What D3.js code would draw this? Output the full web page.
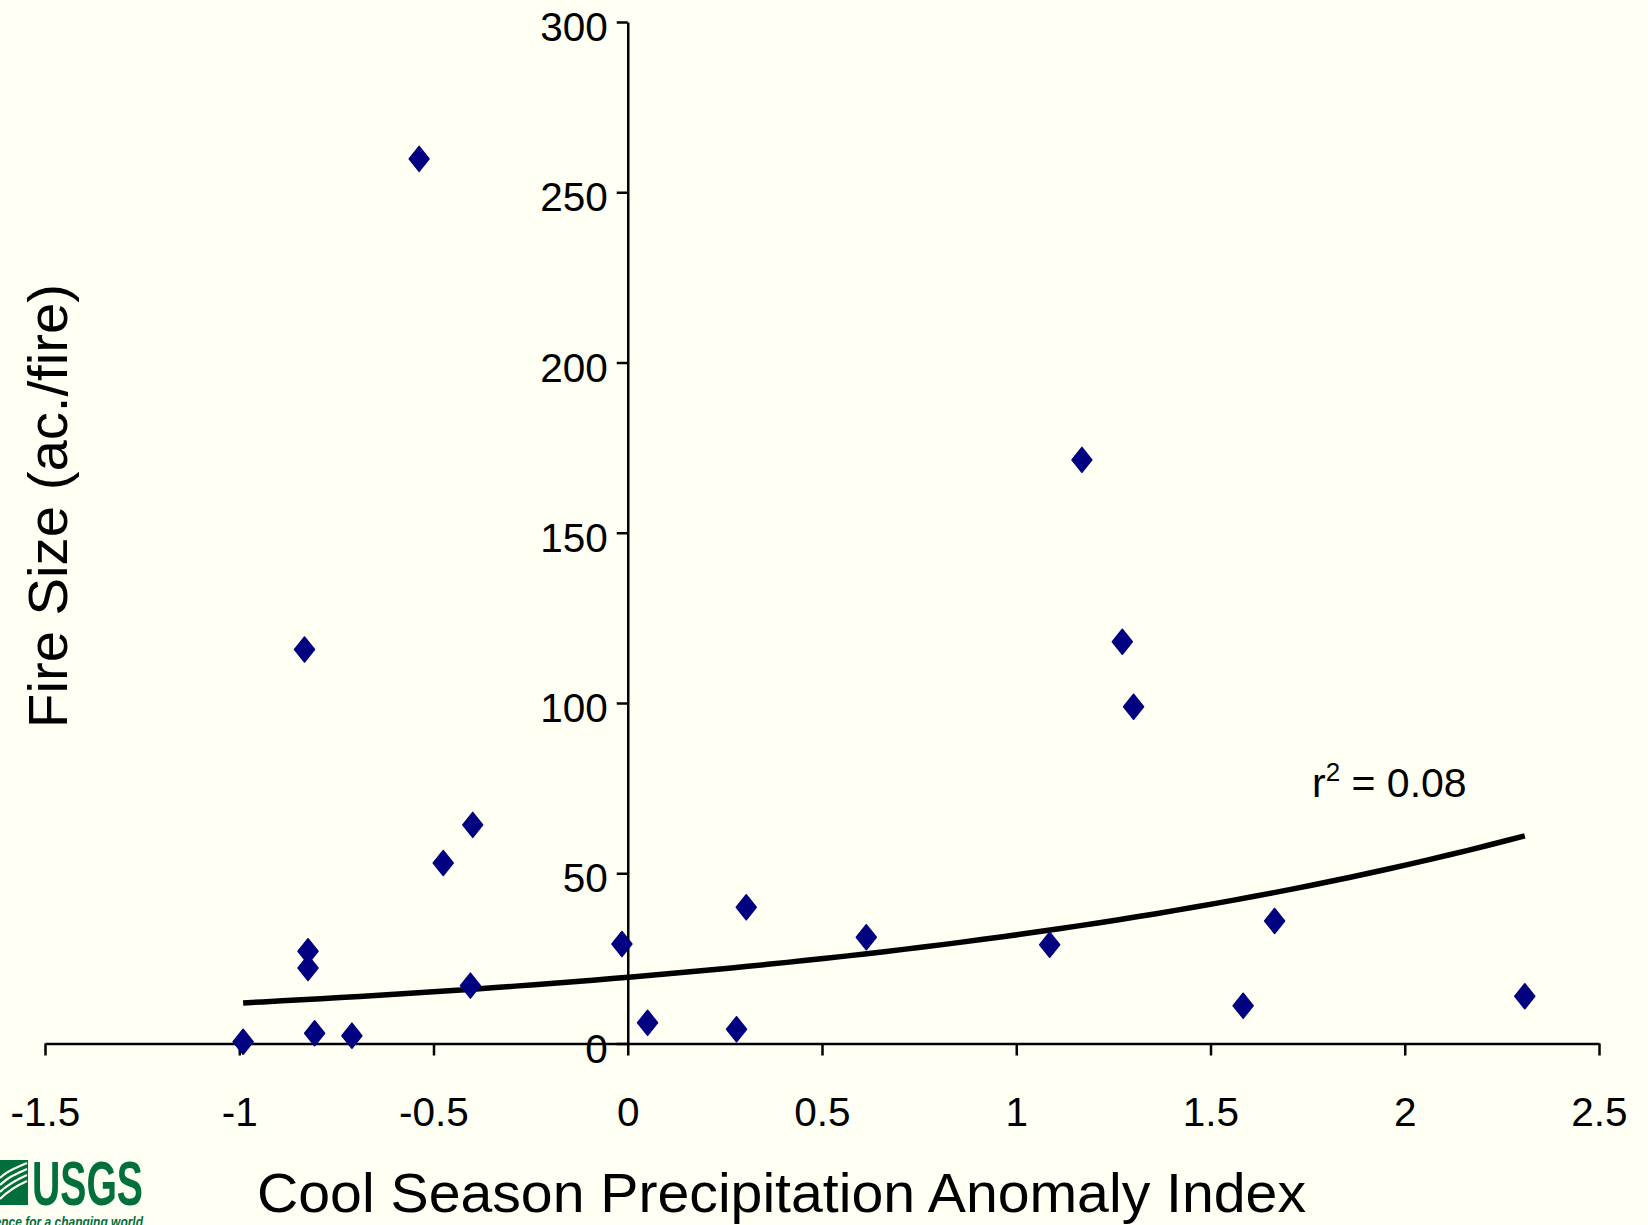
<!DOCTYPE html>
<html>
<head>
<meta charset="utf-8">
<script src="https://cdn.jsdelivr.net/npm/d3@7"></script>
<style>
  html, body { margin: 0; padding: 0; background: #fffff3; }
  svg { display: block; }
  text { font-family: "Liberation Sans", Arial, sans-serif; fill: #000; }
</style>
</head>
<body>
<div id="chart"></div>
<script>
var width = 1648;
var height = 1225;

// precipitation anomaly index (x) and fire size in ac./fire (y)
var precipIndex = [-0.99, -0.832, -0.537, -0.823, -0.823, -0.806, -0.710, -0.475, -0.399, -0.405,
                   -0.015, 0.051, 0.280, 0.305, 0.614, 1.086, 1.169, 1.273, 1.302, 1.584, 1.665, 2.309];
var fireSize    = [0.5, 115.7, 259.8, 27.1, 22.2, 3.0, 2.3, 53.0, 64.2, 17.0,
                   29.2, 6.1, 4.2, 40.0, 31.2, 29.0, 171.4, 118.0, 98.9, 11.1, 36.0, 13.9];

var xTicks = [-1.5, -1, -0.5, 0, 0.5, 1, 1.5, 2, 2.5];
var yTicks = [0, 50, 100, 150, 200, 250, 300];

// exponential trendline y = a * e^(b x)
var trendA = 19.45;
var trendB = 0.495;
var trendFrom = -0.99, trendTo = 2.309;
var trendLabel = "0.08";

var svg = d3.select("div#chart").append("svg")
    .attr("width", width)
    .attr("height", height);

svg.append("rect").attr("width", width).attr("height", height).attr("fill", "#fffff3");

var xScale = d3.scaleLinear().domain([-1.5, 2.5]).range([45, 1599]);
var yScale = d3.scaleLinear().domain([0, 300]).range([1043.5, 22]);

// x axis
var xAxis = svg.append("g")
    .attr("transform", "translate(0," + yScale(0) + ")")
    .call(d3.axisBottom(xScale).tickValues(xTicks).tickSize(12).tickSizeOuter(0).tickPadding(42)
        .tickFormat(function(d){ return String(d); }));

// y axis
var yAxis = svg.append("g")
    .attr("transform", "translate(" + xScale(0) + ",0)")
    .call(d3.axisLeft(yScale).tickValues(yTicks).tickSize(11).tickSizeOuter(0).tickPadding(9));

[xAxis, yAxis].forEach(function(g){
    g.select(".domain").attr("stroke", "#000").attr("stroke-width", 2.5);
    g.selectAll(".tick line").attr("stroke", "#000").attr("stroke-width", 2.5);
    g.selectAll(".tick text").attr("font-size", 40.5).attr("fill", "#000")
        .attr("font-family", "Liberation Sans, Arial, sans-serif");
});
yAxis.selectAll(".tick text").attr("dy", "0.46em");

// trendline
var trendXs = d3.range(trendFrom, trendTo, 0.05).concat([trendTo]);
var line = d3.line()
    .x(function(d){ return xScale(d); })
    .y(function(d){ return yScale(trendA * Math.exp(trendB * d)); });

svg.append("path")
    .datum(trendXs)
    .attr("d", line)
    .attr("fill", "none")
    .attr("stroke", "#000")
    .attr("stroke-width", 5.5)
    .attr("stroke-linejoin", "round");

// diamonds
var points = precipIndex.map(function(x, i){ return {x: x, y: fireSize[i]}; });
svg.selectAll("path.pt")
    .data(points)
    .enter()
    .append("path")
    .attr("class", "pt")
    .attr("d", "M0,-12.5L10,0L0,12.5L-10,0Z")
    .attr("transform", function(d){ return "translate(" + xScale(d.x) + "," + yScale(d.y) + ")"; })
    .attr("fill", "#000080")
    .attr("stroke", "#000080")
    .attr("stroke-width", 1.5)
    .attr("stroke-linejoin", "round");

// r2 label
var r2 = svg.append("text")
    .attr("x", 1312)
    .attr("y", 797)
    .attr("font-size", 41);
r2.append("tspan").text("r");
r2.append("tspan").attr("font-size", 26).attr("dy", -16).text("2");
r2.append("tspan").attr("dy", 16).text(" = " + trendLabel);

// axis titles
svg.append("text")
    .attr("x", 781.5)
    .attr("y", 1212)
    .attr("text-anchor", "middle")
    .attr("font-size", 56)
    .attr("textLength", 1049)
    .attr("lengthAdjust", "spacingAndGlyphs")
    .text("Cool Season Precipitation Anomaly Index");

svg.append("text")
    .attr("transform", "translate(67,506) rotate(-90)")
    .attr("text-anchor", "middle")
    .attr("font-size", 56)
    .attr("textLength", 444)
    .attr("lengthAdjust", "spacingAndGlyphs")
    .text("Fire Size (ac./fire)");

// USGS logo
var logo = svg.append("g");
var usgsGreen = "#006f3c";
logo.append("rect").attr("x", 0).attr("y", 1160).attr("width", 28).attr("height", 45).attr("fill", usgsGreen);
[0, 1, 2, 3].forEach(function(i){
    logo.append("path")
        .attr("d", "M0," + (1178 + i * 7) + " C8," + (1170 + i * 7) + " 16," + (1168 + i * 6) + " 27," + (1163 + i * 6))
        .attr("fill", "none")
        .attr("stroke", "#fffff3")
        .attr("stroke-width", 2.2);
});
logo.append("text")
    .attr("x", 32).attr("y", 1205)
    .attr("font-size", 63).attr("font-weight", "bold")
    .attr("textLength", 111).attr("lengthAdjust", "spacingAndGlyphs")
    .style("fill", usgsGreen)
    .text("USGS");
logo.append("text")
    .attr("x", -22).attr("y", 1227)
    .attr("font-size", 15).attr("font-weight", "bold").attr("font-style", "italic")
    .attr("textLength", 165).attr("lengthAdjust", "spacingAndGlyphs")
    .style("fill", usgsGreen)
    .text("science for a changing world");
</script>
</body>
</html>
